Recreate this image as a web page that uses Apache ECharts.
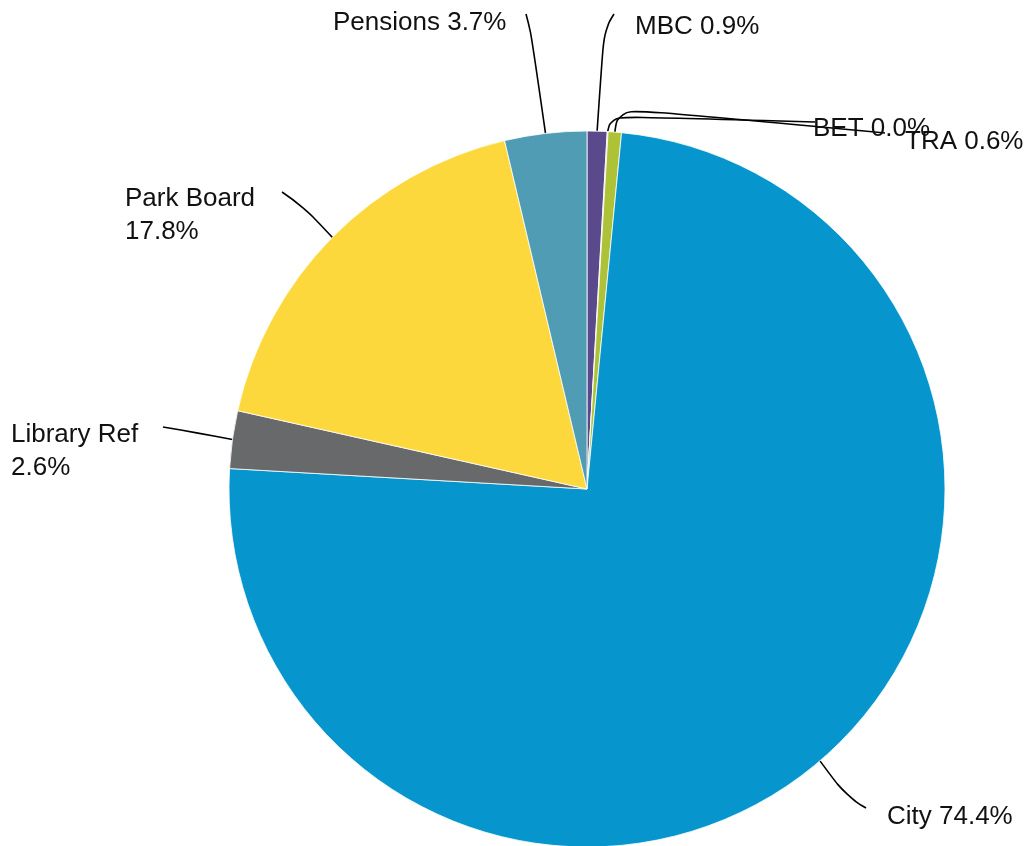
<!DOCTYPE html>
<html>
<head>
<meta charset="utf-8">
<script src="https://cdn.jsdelivr.net/npm/echarts@6/dist/echarts.min.js"></script>
<style>
  html, body { margin: 0; padding: 0; background: #fff; }
  #chart { width: 1026px; height: 846px; }
</style>
</head>
<body>
<div id="chart"></div>
<script>
// slices, clockwise from 12 o'clock
const categories = ['MBC', 'BET', 'TRA', 'City', 'Library Ref', 'Park Board', 'Pensions'];
const shares = [0.9, 0.04, 0.6, 74.4, 2.6, 17.8, 3.7];
const colors = ['#5b4a8b', '#e6a3b8', '#adc237', '#0696cd', '#68696b', '#fdd83c', '#4f9cb4'];
const twoLine = ['Library Ref', 'Park Board'];

// label placement (left x, middle y) and leader line bend / end
const labelSpots = [[635, 27], [813, 129], [905, 142], [887, 817], [11, 451], [125, 215], [333, 23]];
const lineBends = [[604, 30], [611, 116], [618, 108], [846, 796], [198, 433], [303, 206], [531, 32]];
const lineEnds = [[614, 14], [815, 122], [885, 133], [866, 808], [163, 427], [282, 192], [526, 14]];

const chart = echarts.init(document.getElementById('chart'));

const pieData = categories.map((name, i) => ({
  name: name,
  value: shares[i],
  itemStyle: { color: colors[i] }
}));

chart.setOption({
  animation: false,
  series: [{
    type: 'pie',
    center: [587, 489],
    radius: 358,
    startAngle: 90,
    clockwise: true,
    avoidLabelOverlap: false,
    itemStyle: { borderColor: '#ffffff', borderWidth: 0.8 },
    label: {
      show: true,
      position: 'outside',
      color: '#111',
      fontFamily: 'Liberation Sans, Arial, sans-serif',
      fontSize: 26,
      lineHeight: 33,
      formatter: p => p.name + (twoLine.includes(p.name) ? '\n' : ' ') + p.value.toFixed(1) + '%'
    },
    labelLine: {
      show: true,
      smooth: 0.5,
      lineStyle: { color: '#000', width: 1.6 }
    },
    labelLayout: params => {
      const i = params.dataIndex;
      const pts = params.labelLinePoints;
      const start = pts ? pts[0] : lineBends[i];
      return {
        x: labelSpots[i][0],
        y: labelSpots[i][1],
        align: 'left',
        verticalAlign: 'middle',
        labelLinePoints: [start, lineBends[i], lineEnds[i]]
      };
    },
    emphasis: { disabled: true },
    data: pieData
  }]
});
</script>
</body>
</html>
